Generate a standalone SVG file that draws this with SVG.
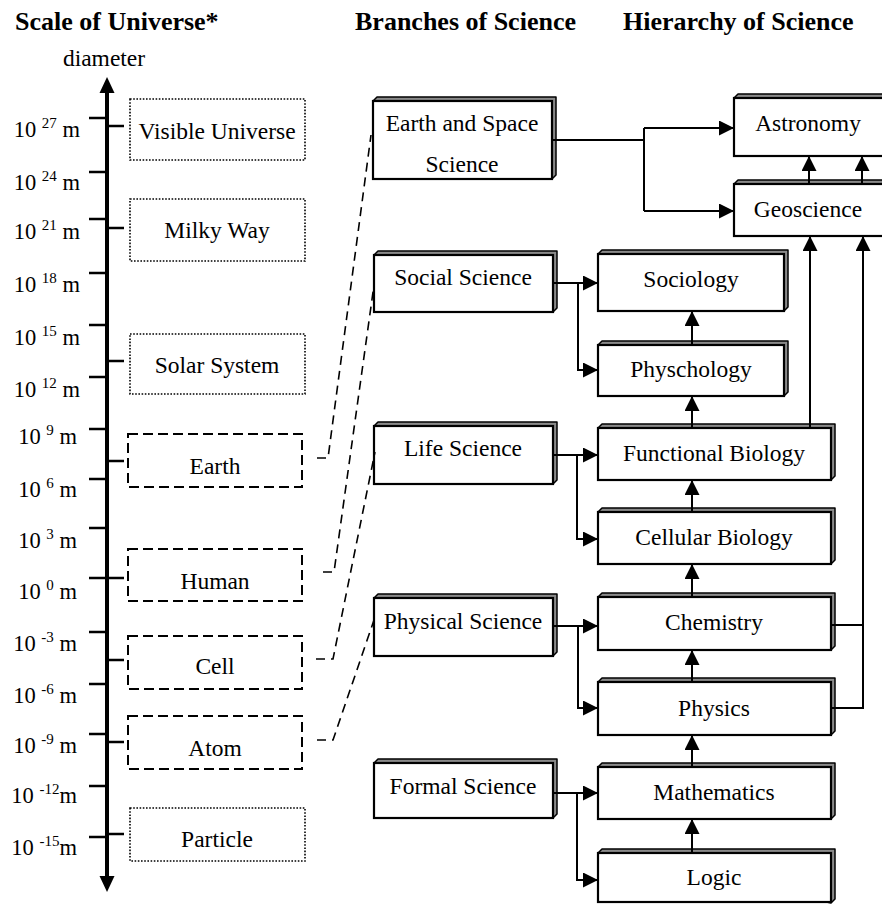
<svg xmlns="http://www.w3.org/2000/svg" width="882" height="904" viewBox="0 0 882 904">
<defs>
<marker id="ah" markerUnits="userSpaceOnUse" markerWidth="15" markerHeight="15" refX="15" refY="7.5" orient="auto"><path d="M0,0 L15,7.5 L0,15 z" fill="#000"/></marker>
<style>
text{font-family:"Liberation Serif","Times New Roman",serif;fill:#000}
.title{font-size:26px;font-weight:bold}
.t{font-size:23.5px;text-anchor:middle}
.lab{font-size:22.5px;text-anchor:end}
.sup{font-size:15px}
.tick{stroke:#000;stroke-width:2.5}
.dot{fill:none;stroke:#000;stroke-width:1.6;stroke-dasharray:1.6 1.6}
.dash{fill:none;stroke:#000;stroke-width:2;stroke-dasharray:10 5}
.link{fill:none;stroke:#000;stroke-width:1.6;stroke-dasharray:9 6}
.side{fill:#8a8a8a;stroke:#000;stroke-width:1.5;stroke-linejoin:round}
.front{fill:#fff;stroke:#000;stroke-width:2.2}
.c{fill:none;stroke:#000;stroke-width:2}
.ca{fill:none;stroke:#000;stroke-width:2;marker-end:url(#ah)}
</style>
</defs>

<text class="title" x="15" y="30">Scale of Universe*</text>
<text class="title" x="355" y="30">Branches of Science</text>
<text class="title" x="623" y="30">Hierarchy of Science</text>

<g id="scale-axis">
<text class="t" x="104" y="66">diameter</text>
<line x1="107" y1="90" x2="107" y2="878" stroke="#000" stroke-width="4"/>
<polygon points="107,77 99.5,93 114.5,93" fill="#000"/>
<polygon points="107,892 99.5,876 114.5,876" fill="#000"/>
<path class="tick" d="M89,118H107M89,172H107M89,219H107M89,273H107M89,325H107M89,377H107M89,429H107M89,479H107M89,528H107M89,578H107M89,632H107M89,684H107M89,734H107M89,786H107M89,837H107"/>
<path class="tick" d="M107,126H124M107,228H124M107,361H124M107,461H124M107,578H124M107,660H124M107,742H124M107,834H124"/>
<text class="lab" x="80" y="137">10 <tspan class="sup" dy="-9">27</tspan><tspan dy="9"> m</tspan></text>
<text class="lab" x="80" y="190">10 <tspan class="sup" dy="-9">24</tspan><tspan dy="9"> m</tspan></text>
<text class="lab" x="80" y="239">10 <tspan class="sup" dy="-9">21</tspan><tspan dy="9"> m</tspan></text>
<text class="lab" x="80" y="292">10 <tspan class="sup" dy="-9">18</tspan><tspan dy="9"> m</tspan></text>
<text class="lab" x="80" y="345">10 <tspan class="sup" dy="-9">15</tspan><tspan dy="9"> m</tspan></text>
<text class="lab" x="80" y="397">10 <tspan class="sup" dy="-9">12</tspan><tspan dy="9"> m</tspan></text>
<text class="lab" x="77" y="444">10 <tspan class="sup" dy="-9">9</tspan><tspan dy="9"> m</tspan></text>
<text class="lab" x="77" y="497">10 <tspan class="sup" dy="-9">6</tspan><tspan dy="9"> m</tspan></text>
<text class="lab" x="77" y="548">10 <tspan class="sup" dy="-9">3</tspan><tspan dy="9"> m</tspan></text>
<text class="lab" x="77" y="599">10 <tspan class="sup" dy="-9">0</tspan><tspan dy="9"> m</tspan></text>
<text class="lab" x="77" y="651">10 <tspan class="sup" dy="-9">-3</tspan><tspan dy="9"> m</tspan></text>
<text class="lab" x="77" y="703">10 <tspan class="sup" dy="-9">-6</tspan><tspan dy="9"> m</tspan></text>
<text class="lab" x="77" y="753">10 <tspan class="sup" dy="-9">-9</tspan><tspan dy="9"> m</tspan></text>
<text class="lab" x="77" y="803">10 <tspan class="sup" dy="-9">-12</tspan><tspan dy="9">m</tspan></text>
<text class="lab" x="77" y="855">10 <tspan class="sup" dy="-9">-15</tspan><tspan dy="9">m</tspan></text>
</g>

<g id="visible-universe"><rect class="dot" x="130" y="99" width="175" height="61"/><text class="t" x="217" y="139">Visible Universe</text></g>
<g id="milky-way"><rect class="dot" x="130" y="199" width="175" height="62"/><text class="t" x="217" y="238">Milky Way</text></g>
<g id="solar-system"><rect class="dot" x="130" y="334" width="175" height="60"/><text class="t" x="217" y="373">Solar System</text></g>
<g id="earth"><rect class="dash" x="128" y="434" width="174" height="53"/><text class="t" x="215" y="474">Earth</text></g>
<g id="human"><rect class="dash" x="128" y="549" width="174" height="52"/><text class="t" x="215" y="589">Human</text></g>
<g id="cell"><rect class="dash" x="128" y="636" width="174" height="53"/><text class="t" x="215" y="674">Cell</text></g>
<g id="atom"><rect class="dash" x="128" y="716" width="174" height="53"/><text class="t" x="215" y="756">Atom</text></g>
<g id="particle"><rect class="dot" x="130" y="808" width="175" height="53"/><text class="t" x="217" y="847">Particle</text></g>

<g id="earth-space-science"><polygon class="side" points="373,101 377,97 556,97 556,175 552,179"/><rect class="front" x="373" y="101" width="179" height="78"/><text class="t" x="462" y="131">Earth and Space</text><text class="t" x="462" y="172">Science</text></g>
<g id="social-science"><polygon class="side" points="374,255 378,251 557,251 557,308 553,312"/><rect class="front" x="374" y="255" width="179" height="57"/><text class="t" x="463" y="285">Social Science</text></g>
<g id="life-science"><polygon class="side" points="374,426 378,422 557,422 557,480 553,484"/><rect class="front" x="374" y="426" width="179" height="58"/><text class="t" x="463" y="456">Life Science</text></g>
<g id="physical-science"><polygon class="side" points="374,598 378,594 557,594 557,652 553,656"/><rect class="front" x="374" y="598" width="179" height="58"/><text class="t" x="463" y="629">Physical Science</text></g>
<g id="formal-science"><polygon class="side" points="374,763 378,759 557,759 557,814 553,818"/><rect class="front" x="374" y="763" width="179" height="55"/><text class="t" x="463" y="794">Formal Science</text></g>

<g id="astronomy"><polygon class="side" points="734,98 738,94 898,94 898,152 894,156"/><rect class="front" x="734" y="98" width="160" height="58"/><text class="t" x="808" y="131">Astronomy</text></g>
<g id="geoscience"><polygon class="side" points="734,184 738,180 898,180 898,232 894,236"/><rect class="front" x="734" y="184" width="160" height="52"/><text class="t" x="808" y="217">Geoscience</text></g>
<g id="sociology"><polygon class="side" points="598,254 602,250 788,250 788,307 784,311"/><rect class="front" x="598" y="254" width="186" height="57"/><text class="t" x="691" y="287">Sociology</text></g>
<g id="physchology"><polygon class="side" points="598,345 602,341 788,341 788,392 784,396"/><rect class="front" x="598" y="345" width="186" height="51"/><text class="t" x="691" y="377">Physchology</text></g>
<g id="functional-biology"><polygon class="side" points="598,428 602,424 835,424 835,476 831,480"/><rect class="front" x="598" y="428" width="233" height="52"/><text class="t" x="714" y="461">Functional Biology</text></g>
<g id="cellular-biology"><polygon class="side" points="598,512 602,508 835,508 835,560 831,564"/><rect class="front" x="598" y="512" width="233" height="52"/><text class="t" x="714" y="545">Cellular Biology</text></g>
<g id="chemistry"><polygon class="side" points="598,597 602,593 835,593 835,646 831,650"/><rect class="front" x="598" y="597" width="233" height="53"/><text class="t" x="714" y="630">Chemistry</text></g>
<g id="physics"><polygon class="side" points="598,682 602,678 835,678 835,731 831,735"/><rect class="front" x="598" y="682" width="233" height="53"/><text class="t" x="714" y="716">Physics</text></g>
<g id="mathematics"><polygon class="side" points="598,767 602,763 835,763 835,815 831,819"/><rect class="front" x="598" y="767" width="233" height="52"/><text class="t" x="714" y="800">Mathematics</text></g>
<g id="logic"><polygon class="side" points="598,853 602,849 835,849 835,899 831,903"/><rect class="front" x="598" y="853" width="233" height="49"/><text class="t" x="714" y="885">Logic</text></g>

<g id="connectors">
<path class="link" d="M317,458H328L371,135"/>
<path class="link" d="M323,572H334L374,285"/>
<path class="link" d="M316,659H333L375,452"/>
<path class="link" d="M317,740H333L374,620"/>
<path class="c" d="M553,140H644M644,128V211"/>
<path class="ca" d="M644,128H734"/>
<path class="ca" d="M644,211H734"/>
<path class="ca" d="M809,184V156"/>
<path class="ca" d="M862,184V156"/>
<path class="ca" d="M810,428V236"/>
<path class="c" d="M831,625H863"/>
<path class="ca" d="M831,708H863V236"/>
<path class="ca" d="M553,283H598"/>
<path class="ca" d="M578,283V370H598"/>
<path class="ca" d="M692,345V311"/>
<path class="ca" d="M692,428V396"/>
<path class="ca" d="M553,455H598"/>
<path class="ca" d="M577,455V539H598"/>
<path class="ca" d="M692,512V480"/>
<path class="ca" d="M692,597V564"/>
<path class="ca" d="M553,626H598"/>
<path class="ca" d="M578,626V708H598"/>
<path class="ca" d="M692,682V650"/>
<path class="ca" d="M692,767V735"/>
<path class="ca" d="M553,793H598"/>
<path class="ca" d="M577,793V880H598"/>
<path class="ca" d="M692,853V819"/>
</g>
</svg>
